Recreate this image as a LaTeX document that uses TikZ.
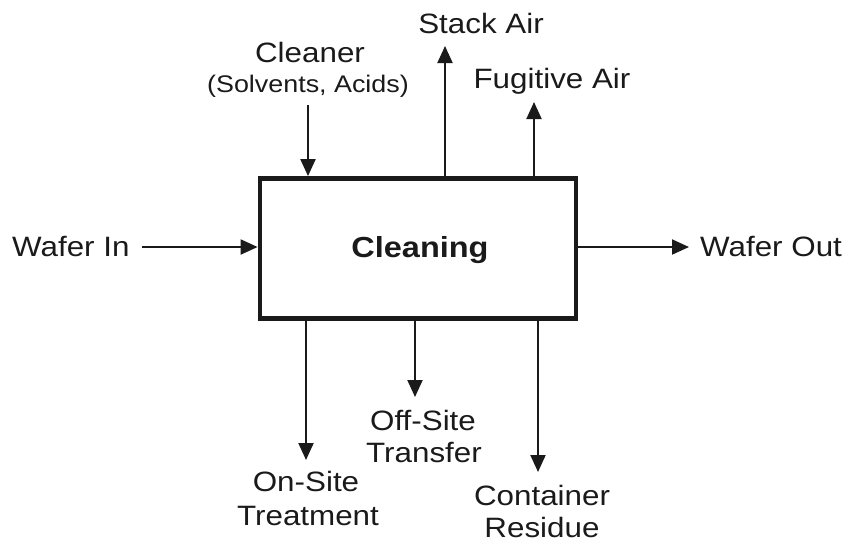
\documentclass[tikz,border=0pt]{standalone}
\usepackage{fontspec}
\setmainfont{Liberation Sans}[FakeStretch=1.12]
\usetikzlibrary{arrows.meta}
\definecolor{ink}{HTML}{1A1A1A}
\begin{document}
\begin{tikzpicture}[x=1pt,y=-1pt,color=ink,
  lbl/.style={inner sep=0pt,anchor=base,font=\fontsize{28}{32}\selectfont},
  sublbl/.style={inner sep=0pt,anchor=base,font=\fontsize{24}{28}\selectfont},
  flow/.style={line width=2pt,-{Triangle[length=17pt,width=15pt]}},
  process/.style={draw,line width=4.8pt,minimum width=316pt,minimum height=140pt,inner sep=0pt}]
\useasboundingbox (0,0) rectangle (850,542);

% process box
\node[process] (clean) at (418,248.5) {};
\node[inner sep=0pt,anchor=base,font=\fontsize{29}{32}\selectfont\bfseries] (cleantxt) at (420,257) {Cleaning};

% labels
\node[lbl] (cleaner) at (310,62) {Cleaner};
\node[sublbl] (solv) at (308,92) {(Solvents, Acids)};
\node[lbl] (stack) at (481,33) {Stack Air};
\node[lbl] (fug) at (552,88) {Fugitive Air};
\node[lbl,anchor=base west] (win) at (12,256) {Wafer In};
\node[lbl,anchor=base west] (wout) at (700,256) {Wafer Out};
\node[lbl] (off1) at (423,430) {Off-Site};
\node[lbl] (off2) at (424,462) {Transfer};
\node[lbl] (on1) at (306,491) {On-Site};
\node[lbl] (on2) at (308,525) {Treatment};
\node[lbl] (cont1) at (542,505) {Container};
\node[lbl] (cont2) at (542,537) {Residue};

% free ends of the flows
\coordinate (cin) at (308,105);
\coordinate (stacktip) at (445,46);
\coordinate (fugtip) at (534,102);
\coordinate (winstart) at (142,247);
\coordinate (wouttip) at (689,247);
\coordinate (ontip) at (306,460);
\coordinate (offtip) at (415,397);
\coordinate (conttip) at (538,472);

% flows
\draw[flow] (cin) -- (cin |- clean.north);
\draw[flow] (stacktip |- clean.north) -- (stacktip);
\draw[flow] (fugtip |- clean.north) -- (fugtip);
\draw[flow] (winstart) -- (winstart -| clean.west);
\draw[flow] (wouttip -| clean.east) -- (wouttip);
\draw[flow] (ontip |- clean.south) -- (ontip);
\draw[flow] (offtip |- clean.south) -- (offtip);
\draw[flow] (conttip |- clean.south) -- (conttip);
\end{tikzpicture}
\end{document}
